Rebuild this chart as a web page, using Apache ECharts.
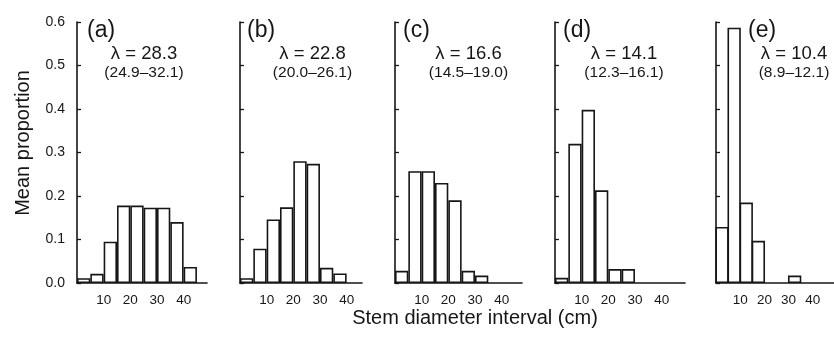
<!DOCTYPE html>
<html><head><meta charset="utf-8">
<script src="https://cdn.jsdelivr.net/npm/echarts@6/dist/echarts.min.js"></script>
<style>html,body{margin:0;padding:0;background:#fff}#c{width:834px;height:338px}</style>
</head><body><div id="c"></div>
<script>
// ---- data ----
const binCenters = [2.5, 7.5, 12.5, 17.5, 22.5, 27.5, 32.5, 37.5, 42.5];
const xTickValues = [10, 20, 30, 40];
const panelLetters = ['(a)', '(b)', '(c)', '(d)', '(e)'];
const lambdaText = ['λ = 28.3', 'λ = 22.8', 'λ = 16.6', 'λ = 14.1', 'λ = 10.4'];
const ciText = ['(24.9–32.1)', '(20.0–26.1)', '(14.5–19.0)', '(12.3–16.1)', '(8.9–12.1)'];
const propA = [0.011, 0.021, 0.095, 0.178, 0.178, 0.173, 0.173, 0.140, 0.037];
const propB = [0.011, 0.079, 0.146, 0.174, 0.280, 0.274, 0.035, 0.022];
const propC = [0.028, 0.257, 0.257, 0.230, 0.190, 0.028, 0.017];
const propD = [0.012, 0.320, 0.398, 0.213, 0.032, 0.032];
const propE = [0.129, 0.587, 0.185, 0.097, 0, 0, 0.017];
const yAxisTitle = 'Mean proportion';
const xAxisTitle = 'Stem diameter interval (cm)';
const yMax = 0.6, yStep = 0.1;

// ---- layout ----
const series = [propA, propB, propC, propD, propE];
const layout = [
  {left: 77, width: 130, lx: 144, letterX: 87},
  {left: 240, width: 122, lx: 312.5, letterX: 247},
  {left: 395, width: 127, lx: 468.5, letterX: 403},
  {left: 555, width: 130, lx: 624, letterX: 563},
  {left: 716, width: 130, lx: 794, letterX: 748}
];
const binPx = 13.33, binUnits = 5;
const pxPerUnit = binPx / binUnits;
const ink = '#161616';
const font = '"Liberation Sans", Arial, Helvetica, sans-serif';

const grids = [], xAxes = [], yAxes = [], ser = [], graphics = [];
layout.forEach((p, i) => {
  grids.push({left: p.left, top: 22, width: p.width, height: 261, containLabel: false});
  xAxes.push({
    type: 'value', gridIndex: i, min: 0, max: p.width / pxPerUnit, interval: 10,
    axisLine: {show: true, lineStyle: {color: ink, width: 1.6}},
    axisTick: {show: false}, splitLine: {show: false},
    axisLabel: {
      margin: 10, color: ink, fontSize: 13.5, fontFamily: font,
      showMaxLabel: false,
      formatter: v => xTickValues.indexOf(v) >= 0 ? String(v) : ''
    }
  });
  yAxes.push({
    type: 'value', gridIndex: i, min: 0, max: yMax, interval: yStep,
    axisLine: {show: true, lineStyle: {color: ink, width: 1.6}},
    axisTick: {show: true, inside: true, length: 4, lineStyle: {color: ink, width: 1.3}},
    splitLine: {show: false},
    axisLabel: {show: i === 0, margin: 12, color: ink, fontSize: 14, fontFamily: font,
      formatter: v => v.toFixed(1)}
  });
  ser.push({
    type: 'bar', xAxisIndex: i, yAxisIndex: i, barWidth: binPx, barGap: '-100%',
    itemStyle: {color: '#fff', borderColor: ink, borderWidth: 1.6},
    silent: true, animation: false,
    data: series[i].map((v, k) => v > 0 ? [binCenters[k], v] : null).filter(d => d)
  });
  graphics.push({type: 'text', left: p.letterX, top: 19,
    style: {text: panelLetters[i], font: '23px ' + font, fill: ink}});
  graphics.push({type: 'text', x: p.lx, y: 53.5,
    style: {text: lambdaText[i], font: '18.5px ' + font, fill: ink, align: 'center', verticalAlign: 'middle'}});
  graphics.push({type: 'text', x: p.lx, y: 72.5,
    style: {text: ciText[i], font: '15.5px ' + font, fill: ink, align: 'center', verticalAlign: 'middle'}});
});
graphics.push({type: 'text', x: 475, y: 318,
  style: {text: xAxisTitle, font: '20px ' + font, fill: ink, align: 'center', verticalAlign: 'middle'}});
graphics.push({type: 'text', x: 23, y: 143, rotation: Math.PI / 2,
  style: {text: yAxisTitle, font: '20px ' + font, fill: ink, align: 'center', verticalAlign: 'middle'}});

const chart = echarts.init(document.getElementById('c'), null, {renderer: 'canvas'});
chart.setOption({
  animation: false, backgroundColor: '#fff',
  grid: grids, xAxis: xAxes, yAxis: yAxes, series: ser, graphic: graphics
});
</script></body></html>
